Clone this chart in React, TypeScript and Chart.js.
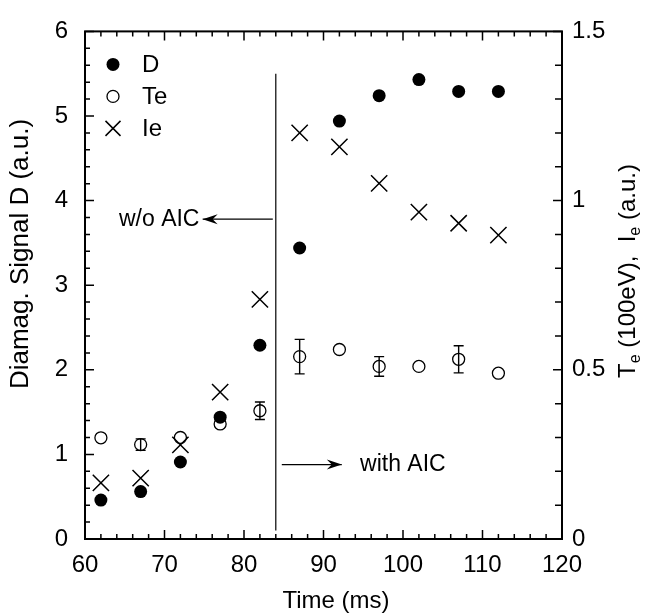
import React, { useEffect, useRef } from "react";
import { Chart, registerables } from "chart.js";

Chart.register(...registerables);

// ---- data ----
const times = [62, 67, 72, 77, 82, 87, 92, 97, 102, 107, 112];
const dSignal = [0.46, 0.56, 0.91, 1.44, 2.29, 3.44, 4.94, 5.24, 5.43, 5.29, 5.29];
const teValues = [0.299, 0.279, 0.3, 0.34, 0.379, 0.539, 0.56, 0.51, 0.51, 0.531, 0.49];
const teErrors = [0, 0.017, 0, 0, 0.026, 0.051, 0, 0.029, 0, 0.04, 0];
const ieValues = [0.166, 0.18, 0.278, 0.434, 0.708, 1.2, 1.159, 1.051, 0.966, 0.933, 0.898];

const xTickLabels = ["60", "70", "80", "90", "100", "110", "120"];
const leftTickLabels = ["0", "1", "2", "3", "4", "5", "6"];
const rightTickLabels = ["0", "0.5", "1", "1.5"];

const legendLabels = ["D", "Te", "Ie"];
const boundaryTime = 84;

const FONT = "'Liberation Sans', Arial, Helvetica, sans-serif";

function arrow(ctx: CanvasRenderingContext2D, x1: number, x2: number, y: number) {
  ctx.beginPath();
  ctx.moveTo(x1, y);
  ctx.lineTo(x2, y);
  ctx.lineWidth = 1.3;
  ctx.stroke();
  const dir = x2 > x1 ? 1 : -1;
  ctx.beginPath();
  ctx.moveTo(x2, y);
  ctx.lineTo(x2 - dir * 15, y - 5);
  ctx.lineTo(x2 - dir * 10, y);
  ctx.lineTo(x2 - dir * 15, y + 5);
  ctx.closePath();
  ctx.fill();
}

const decorPlugin = {
  id: "decor",
  beforeDatasetsDraw(chart: any) {
    const { ctx, chartArea } = chart;
    const { left, right, top, bottom } = chartArea;
    const x = chart.scales.x;
    const y = chart.scales.y;
    const y2 = chart.scales.y2;
    ctx.save();
    ctx.strokeStyle = "#000";
    ctx.fillStyle = "#000";
    ctx.lineWidth = 2;
    ctx.strokeRect(left, top, right - left, bottom - top);

    ctx.lineWidth = 1.5;
    ctx.beginPath();
    for (let i = 0; i <= 30; i++) {
      const v = 60 + i * 2;
      const px = x.getPixelForValue(v);
      const len = i % 5 === 0 ? 9 : 5;
      ctx.moveTo(px, bottom);
      ctx.lineTo(px, bottom - len);
      ctx.moveTo(px, top);
      ctx.lineTo(px, top + len);
    }
    for (let i = 0; i <= 30; i++) {
      const py = y.getPixelForValue(i * 0.2);
      const len = i % 5 === 0 ? 9 : 5;
      ctx.moveTo(left, py);
      ctx.lineTo(left + len, py);
    }
    for (let i = 0; i <= 15; i++) {
      const py = y2.getPixelForValue(i * 0.1);
      const len = i % 5 === 0 ? 9 : 7;
      ctx.moveTo(right, py);
      ctx.lineTo(right - len, py);
    }
    ctx.stroke();

    // boundary line
    const bx = x.getPixelForValue(boundaryTime);
    ctx.lineWidth = 1.2;
    ctx.beginPath();
    ctx.moveTo(bx, y.getPixelForValue(5.5));
    ctx.lineTo(bx, y.getPixelForValue(0.1));
    ctx.stroke();

    // annotations
    ctx.font = `23px ${FONT}`;
    ctx.textBaseline = "middle";
    const yA = y.getPixelForValue(3.78);
    arrow(ctx, bx - 3, x.getPixelForValue(74.8), yA);
    ctx.textAlign = "right";
    ctx.fillText("w/o AIC", x.getPixelForValue(74.4), yA);
    const yB = y.getPixelForValue(0.88);
    arrow(ctx, bx + 6, x.getPixelForValue(92.3), yB);
    ctx.textAlign = "left";
    ctx.fillText("with AIC", x.getPixelForValue(94.6), yB);

    // error bars
    ctx.lineWidth = 1.4;
    ctx.beginPath();
    times.forEach((t, i) => {
      const e = teErrors[i];
      if (!e) return;
      const px = x.getPixelForValue(t);
      const p1 = y2.getPixelForValue(teValues[i] + e);
      const p2 = y2.getPixelForValue(teValues[i] - e);
      ctx.moveTo(px, p1);
      ctx.lineTo(px, p2);
      ctx.moveTo(px - 5, p1);
      ctx.lineTo(px + 5, p1);
      ctx.moveTo(px - 5, p2);
      ctx.lineTo(px + 5, p2);
    });
    ctx.stroke();

    // legend
    const lx = left + 28;
    const rows = [top + 33, top + 65, top + 97];
    ctx.font = `24px ${FONT}`;
    ctx.textAlign = "left";
    ctx.textBaseline = "middle";
    ctx.beginPath();
    ctx.arc(lx, rows[0], 6.5, 0, Math.PI * 2);
    ctx.fill();
    ctx.lineWidth = 1.3;
    ctx.beginPath();
    ctx.arc(lx, rows[1], 6, 0, Math.PI * 2);
    ctx.stroke();
    ctx.lineWidth = 1.5;
    const c = 7.5;
    ctx.beginPath();
    ctx.moveTo(lx - c, rows[2] - c);
    ctx.lineTo(lx + c, rows[2] + c);
    ctx.moveTo(lx - c, rows[2] + c);
    ctx.lineTo(lx + c, rows[2] - c);
    ctx.stroke();
    legendLabels.forEach((lab, i) => ctx.fillText(lab, lx + 29, rows[i] + 1));

    // axis titles
    ctx.font = `24px ${FONT}`;
    ctx.textAlign = "center";
    ctx.fillText("Time (ms)", 336, 601);

    ctx.save();
    ctx.translate(21, 254);
    ctx.rotate(-Math.PI / 2);
    ctx.font = `26px ${FONT}`;
    ctx.fillText("Diamag. Signal D (a.u.)", 0, 0);
    ctx.restore();

    // right title with subscripts
    ctx.save();
    ctx.translate(628, 271);
    ctx.rotate(-Math.PI / 2);
    const big = `24px ${FONT}`;
    const small = `16px ${FONT}`;
    const parts: [string, boolean][] = [
      ["T", false],
      ["e", true],
      [" (100eV),  I", false],
      ["e", true],
      [" (a.u.)", false],
    ];
    let total = 0;
    const widths = parts.map(([s, sub]) => {
      ctx.font = sub ? small : big;
      const w = ctx.measureText(s).width;
      total += w;
      return w;
    });
    let cx = -total / 2;
    ctx.textAlign = "left";
    parts.forEach(([s, sub], i) => {
      ctx.font = sub ? small : big;
      ctx.fillText(s, cx, sub ? 8 : 0);
      cx += widths[i];
    });
    ctx.restore();

    ctx.restore();
  },
};

export default function App() {
  const ref = useRef<HTMLCanvasElement | null>(null);
  useEffect(() => {
    if (!ref.current) return;
    const tickFont = { family: FONT, size: 24 };
    const chart = new Chart(ref.current, {
      type: "scatter",
      data: {
        datasets: [
          {
            label: "D",
            data: times.map((t, i) => ({ x: t, y: dSignal[i] })),
            yAxisID: "y",
            pointStyle: "circle",
            pointRadius: 6.5,
            backgroundColor: "#000",
            borderColor: "#000",
            borderWidth: 0,
          },
          {
            label: "Te",
            data: times.map((t, i) => ({ x: t, y: teValues[i] })),
            yAxisID: "y2",
            pointStyle: "circle",
            pointRadius: 6,
            backgroundColor: "rgba(0,0,0,0)",
            borderColor: "#000",
            borderWidth: 1.3,
          },
          {
            label: "Ie",
            data: times.map((t, i) => ({ x: t, y: ieValues[i] })),
            yAxisID: "y2",
            pointStyle: "crossRot",
            pointRadius: 11.5,
            borderColor: "#000",
            borderWidth: 1.5,
          },
        ],
      },
      options: {
        responsive: false,
        animation: false,
        devicePixelRatio: 1,
        layout: { padding: { top: 22, left: 0, right: 0, bottom: 0 } },
        plugins: { legend: { display: false }, tooltip: { enabled: false } },
        scales: {
          x: {
            type: "linear",
            min: 60,
            max: 120,
            position: "bottom",
            grid: { display: false, drawTicks: false },
            border: { display: false },
            ticks: {
              stepSize: 10,
              color: "#000",
              font: tickFont,
              padding: 12,
              maxRotation: 0,
              callback: (v: any) => xTickLabels[Math.round((v - 60) / 10)] ?? "",
            },
            afterFit: (s: any) => {
              s.height = 77;
            },
          },
          y: {
            min: 0,
            max: 6,
            position: "left",
            grid: { display: false, drawTicks: false },
            border: { display: false },
            ticks: {
              stepSize: 1,
              color: "#000",
              font: tickFont,
              padding: 17,
              callback: (v: any) => leftTickLabels[Math.round(v)] ?? "",
            },
            afterFit: (s: any) => {
              s.width = 85;
            },
          },
          y2: {
            min: 0,
            max: 1.5,
            position: "right",
            grid: { display: false, drawTicks: false },
            border: { display: false },
            ticks: {
              stepSize: 0.5,
              color: "#000",
              font: tickFont,
              padding: 10,
              callback: (v: any) => rightTickLabels[Math.round(v * 2)] ?? "",
            },
            afterFit: (s: any) => {
              s.width = 87;
            },
          },
        },
      },
      plugins: [decorPlugin],
    });
    return () => chart.destroy();
  }, []);
  return (
    <div style={{ position: "absolute", left: 0, top: 0, width: 649, height: 616, background: "#fff" }}>
      <canvas ref={ref} width={649} height={616} />
    </div>
  );
}
